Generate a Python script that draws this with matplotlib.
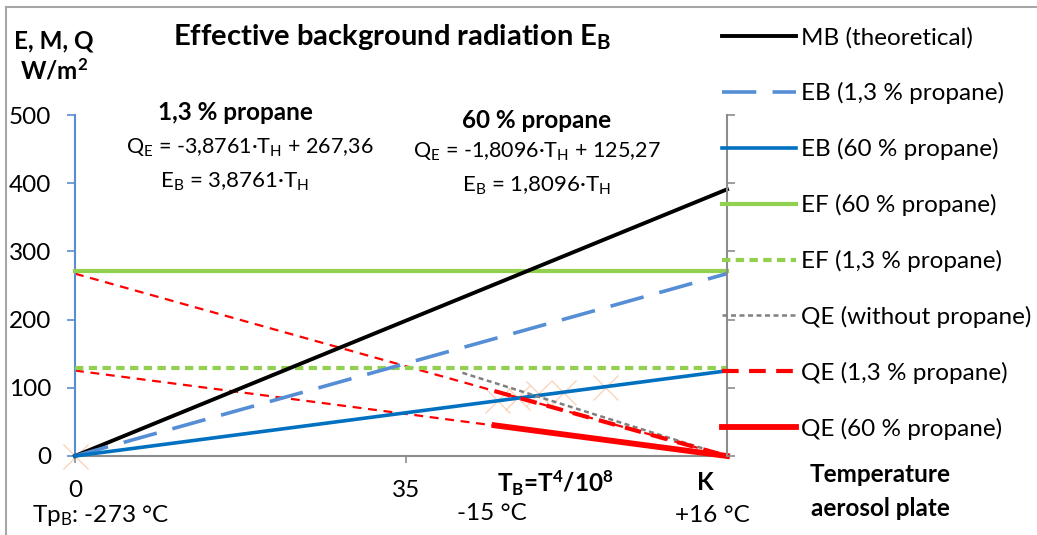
import matplotlib
matplotlib.use("Agg")
import matplotlib.pyplot as plt

plt.rcParams['font.family'] = ['Lato', 'DejaVu Sans']
plt.rcParams['mathtext.default'] = 'regular'

W, H = 1037, 535

# Datos (T_B = T^4/10^8)
x_teo = [0, 69]
mb = [0, 391]
eb_13 = [0, 267.4]
eb_60 = [0, 124.9]
ef_60 = [271, 271]
ef_13 = [129.5, 129.5]

x_sin = [41, 69]
qe_sin = [122, 0]

x_med = [44.4, 69]
qe_13 = [95.2, 0]
qe_60 = [45, 0]

tend_13 = [267.36, 0]
tend_60 = [125.27, 0]

puntos_x = [0, 44.7, 46.8, 49.0, 51.6, 56.1]
puntos_y = [0, 82, 86.5, 92.4, 93.8, 101.2]


def px(x, y):
    return x / W, 1 - y / H


fs = 17.5   # texto normal
fs_eq = 15.5  # ecuaciones (mathtext sale mas ancho)

fig = plt.figure(figsize=(W / 100, H / 100), dpi=100)
ax = fig.add_axes([75 / W, 1 - 456 / H, (727 - 75) / W, (456 - 115) / H])

# puntos medidos (marcas tenues)
ax.plot(puntos_x, puntos_y, ls='none', marker='x', ms=18, mew=1,
        color='#F8CBAD', alpha=0.8, clip_on=False, zorder=1)

# lineas de tendencia
ax.plot(x_teo, tend_13, color='red', lw=1.6, ls=(0, (4, 3)), clip_on=False, zorder=2)
ax.plot(x_teo, tend_60, color='red', lw=1.6, ls=(0, (4, 3)), clip_on=False, zorder=2)

ax.plot(x_teo, mb, color='black', lw=2.8, label='MB (theoretical)', clip_on=False, zorder=5)
ax.plot(x_teo, eb_13, color='#558ED5', lw=2.6, ls=(0, (9.5, 4.5)),
        label='EB (1,3 % propane)', clip_on=False, zorder=5)
ax.plot(x_teo, eb_60, color='#0070C0', lw=2.6, label='EB (60 % propane)', clip_on=False, zorder=5)
ax.plot(x_teo, ef_60, color='#92D050', lw=3, label='EF (60 % propane)', clip_on=False, zorder=4)
ax.plot(x_teo, ef_13, color='#92D050', lw=3, ls=(0, (2, 1.3)),
        label='EF (1,3 % propane)', clip_on=False, zorder=4)
ax.plot(x_sin, qe_sin, color='#808080', lw=1.8, ls=(0, (2, 1.4)),
        label='QE (without propane)', clip_on=False, zorder=5)
ax.plot(x_med, qe_13, color='red', lw=3, ls=(0, (4, 2.5)),
        label='QE (1,3 % propane)', clip_on=False, zorder=6)
ax.plot(x_med, qe_60, color='red', lw=4.2, label='QE (60 % propane)', clip_on=False, zorder=6)

ax.set_xlim(0, 69)
ax.set_ylim(0, 500)
ax.set_xticks([0, 35])
ax.set_yticks(range(0, 501, 100))
ax.tick_params(axis='y', direction='out', length=6, width=1.2, color='#5B8BD0',
               labelsize=fs, pad=11)
ax.tick_params(axis='x', direction='out', length=5, width=1.2, color='#8C8C8C',
               labelsize=fs, pad=12)
ax.spines['top'].set_visible(False)
ax.spines['right'].set_visible(False)
ax.spines['left'].set_color('#5B8BD0')
ax.spines['left'].set_linewidth(1.5)
ax.spines['bottom'].set_color('#8C8C8C')
ax.spines['bottom'].set_linewidth(1.5)

# eje derecho
ax2 = ax.twinx()
ax2.set_ylim(0, 500)
ax2.set_yticks(range(0, 501, 100))
ax2.set_yticklabels([])
ax2.tick_params(axis='y', direction='out', length=6, width=1.2, color='#8C8C8C')
for s in ['top', 'left', 'bottom']:
    ax2.spines[s].set_visible(False)
ax2.spines['right'].set_color('#8C8C8C')
ax2.spines['right'].set_linewidth(1.5)

# leyenda
h, l = ax.get_legend_handles_labels()
fig.legend(h, l, loc='upper left', bbox_to_anchor=px(722, 27), frameon=False,
           fontsize=fs, handlelength=3.05, handletextpad=0.22, labelspacing=1.39,
           borderaxespad=0, borderpad=0)

# textos
fig.text(*px(392, 37), 'Effective background radiation E$_B$', fontsize=21,
         fontweight='bold', ha='center', va='center')
fig.text(*px(54, 41), 'E, M, Q', fontsize=fs, fontweight='bold', ha='center', va='center')
fig.text(*px(54, 71), 'W/m$^2$', fontsize=fs, fontweight='bold', ha='center', va='center')

fig.text(*px(235, 113), '1,3 % propane', fontsize=fs, fontweight='bold', ha='center', va='center')
fig.text(*px(250, 148), 'Q$_E$ = -3,8761·T$_H$ + 267,36', fontsize=fs_eq, ha='center', va='center')
fig.text(*px(235, 182), 'E$_B$ = 3,8761·T$_H$', fontsize=fs_eq + 0.5, ha='center', va='center')
fig.text(*px(537, 120), '60 % propane', fontsize=fs, fontweight='bold', ha='center', va='center')
fig.text(*px(537, 152), 'Q$_E$ = -1,8096·T$_H$ + 125,27', fontsize=fs_eq, ha='center', va='center')
fig.text(*px(537, 186), 'E$_B$ = 1,8096·T$_H$', fontsize=fs_eq + 0.5, ha='center', va='center')

fig.text(*px(555, 483), 'T$_B$=T$^4$/10$^8$', fontsize=fs, fontweight='bold', ha='center', va='center')
fig.text(*px(705, 483), 'K', fontsize=fs, fontweight='bold', ha='center', va='center')
fig.text(*px(880, 475), 'Temperature', fontsize=fs, fontweight='bold', ha='center', va='center')
fig.text(*px(880, 508), 'aerosol plate', fontsize=fs, fontweight='bold', ha='center', va='center')
fig.text(*px(101, 516), 'Tp$_B$: -273 °C', fontsize=fs, ha='center', va='center')
fig.text(*px(492, 514), '-15 °C', fontsize=fs, ha='center', va='center')
fig.text(*px(712, 516), '+16 °C', fontsize=fs, ha='center', va='center')

# marco del grafico
fig.add_artist(plt.Line2D([6 / W, 6 / W], [0, 1 - 7 / H], color='#A6A6A6', lw=1.5))
fig.add_artist(plt.Line2D([6 / W, 1], [1 - 7 / H, 1 - 7 / H], color='#A6A6A6', lw=1.5))

fig.savefig('out.png', dpi=100)
